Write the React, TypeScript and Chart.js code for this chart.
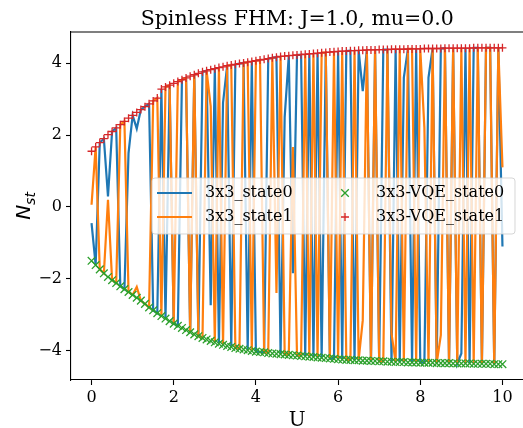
import { useEffect, useRef } from "react";
import { Chart, registerables } from "chart.js";
Chart.register(...registerables);

const TITLE = "Spinless FHM: J=1.0, mu=0.0";
const X_LABEL = "U";
const LEGEND_LABELS = ["3x3_state0", "3x3_state1", "3x3-VQE_state0", "3x3-VQE_state1"];
const X_TICKS = [0, 2, 4, 6, 8, 10];
const Y_TICKS = [-4, -2, 0, 2, 4];

const U_VALUES = [
  0, 0.1, 0.2, 0.3, 0.4, 0.5, 0.6, 0.7, 0.8, 0.9,
  1, 1.1, 1.2, 1.3, 1.4, 1.5, 1.6, 1.7, 1.8, 1.9,
  2, 2.1, 2.2, 2.3, 2.4, 2.5, 2.6, 2.7, 2.8, 2.9,
  3, 3.1, 3.2, 3.3, 3.4, 3.5, 3.6, 3.7, 3.8, 3.9,
  4, 4.1, 4.2, 4.3, 4.4, 4.5, 4.6, 4.7, 4.8, 4.9,
  5, 5.1, 5.2, 5.3, 5.4, 5.5, 5.6, 5.7, 5.8, 5.9,
  6, 6.1, 6.2, 6.3, 6.4, 6.5, 6.6, 6.7, 6.8, 6.9,
  7, 7.1, 7.2, 7.3, 7.4, 7.5, 7.6, 7.7, 7.8, 7.9,
  8, 8.1, 8.2, 8.3, 8.4, 8.5, 8.6, 8.7, 8.8, 8.9,
  9, 9.1, 9.2, 9.3, 9.4, 9.5, 9.6, 9.7, 9.8, 9.9,
  10,
];

const STATE0 = [
  -0.45, -1.62, 1.79, 1.90, 0.29, 2.10, 2.20, -2.21, -2.29, 1.50,
  2.55, 2.18, 2.71, 2.79, 2.87, -2.88, -2.96, 3.28, -3.11, 3.39,
  -3.25, -3.31, 3.54, 3.59, -3.49, 3.68, -3.60, 3.76, 3.79, -2.74,
  3.85, -3.81, 2.90, 3.93, -3.90, 3.97, 3.99, 4.01, -3.99, 4.05,
  -4.03, -4.04, -4.05, 4.13, 4.15, 4.17, -4.10, 2.50, 4.21, -1.85,
  4.23, 4.24, -4.16, 4.26, -4.18, 4.28, -4.20, 4.30, -4.22, -4.23,
  4.33, -4.25, 4.34, 4.35, -4.27, 4.36, 3.22, 4.37, -4.29, 4.37,
  -4.30, 4.38, 4.38, -4.31, 4.39, -4.32, 3.60, 4.40, -4.33, 4.40,
  -4.34, -4.34, 3.60, 4.41, -4.35, 4.41, 4.42, -4.35, 4.42, -4.36,
  -4.08, 4.42, -4.36, 4.43, 4.43, -4.37, 4.43, 4.43, -4.38, 4.43,
  -1.10,
];

const STATE1 = [
  0.06, 1.67, -1.74, -1.85, 0.20, -2.04, -2.12, 2.29, 2.38, -2.37,
  -2.45, -2.23, -2.61, -2.70, -2.80, 2.95, 3.03, -3.04, 3.34, 3.39,
  -3.25, 3.49, 3.54, 3.59, -3.49, 3.68, -3.60, -3.65, 3.79, 2.80,
  -3.77, 3.88, -3.84, 3.93, 3.95, -3.93, -3.95, 4.01, 4.03, -4.01,
  4.07, 4.09, -4.05, -4.07, 4.15, -2.40, 4.19, -4.11, -4.12, 1.67,
  -4.14, -4.15, 4.25, -4.17, 4.27, -4.19, 4.29, 4.30, -4.22, 4.32,
  -4.24, 4.34, -4.26, -4.26, 4.35, -4.27, -3.16, 4.37, -4.29, 4.37,
  -4.30, -4.30, 4.38, -3.53, -4.32, 4.39, -4.32, 4.40, 4.40, -4.33,
  4.40, 2.20, -4.34, 4.41, -4.35, -3.57, 4.42, -4.35, 4.42, -4.36,
  4.42, -4.36, 4.42, -4.37, 4.43, -4.37, 4.43, 4.43, -4.38, 4.43,
  1.10,
];

const VQE_STATE0 = [
  -1.50, -1.62, -1.74, -1.85, -1.95, -2.04, -2.12, -2.21, -2.29, -2.37,
  -2.45, -2.53, -2.61, -2.70, -2.80, -2.88, -2.96, -3.04, -3.11, -3.18,
  -3.25, -3.31, -3.37, -3.43, -3.49, -3.55, -3.60, -3.65, -3.69, -3.73,
  -3.77, -3.81, -3.84, -3.87, -3.90, -3.93, -3.95, -3.97, -3.99, -4.01,
  -4.03, -4.04, -4.05, -4.07, -4.08, -4.09, -4.10, -4.11, -4.12, -4.13,
  -4.14, -4.15, -4.16, -4.17, -4.18, -4.19, -4.20, -4.21, -4.22, -4.23,
  -4.24, -4.25, -4.26, -4.26, -4.27, -4.27, -4.28, -4.28, -4.29, -4.29,
  -4.30, -4.30, -4.31, -4.31, -4.32, -4.32, -4.32, -4.33, -4.33, -4.33,
  -4.34, -4.34, -4.34, -4.34, -4.35, -4.35, -4.35, -4.35, -4.36, -4.36,
  -4.36, -4.36, -4.36, -4.37, -4.37, -4.37, -4.37, -4.37, -4.38, -4.38,
  -4.38,
];

const VQE_STATE1 = [
  1.55, 1.67, 1.79, 1.90, 2.01, 2.10, 2.20, 2.29, 2.38, 2.47,
  2.55, 2.63, 2.71, 2.79, 2.87, 2.95, 3.03, 3.28, 3.34, 3.39,
  3.44, 3.49, 3.54, 3.59, 3.64, 3.68, 3.72, 3.76, 3.79, 3.82,
  3.85, 3.88, 3.90, 3.93, 3.95, 3.97, 3.99, 4.01, 4.03, 4.05,
  4.07, 4.09, 4.11, 4.13, 4.15, 4.17, 4.19, 4.20, 4.21, 4.22,
  4.23, 4.24, 4.25, 4.26, 4.27, 4.28, 4.29, 4.30, 4.31, 4.32,
  4.33, 4.34, 4.34, 4.35, 4.35, 4.36, 4.36, 4.37, 4.37, 4.37,
  4.38, 4.38, 4.38, 4.39, 4.39, 4.39, 4.39, 4.40, 4.40, 4.40,
  4.40, 4.41, 4.41, 4.41, 4.41, 4.41, 4.42, 4.42, 4.42, 4.42,
  4.42, 4.42, 4.42, 4.43, 4.43, 4.43, 4.43, 4.43, 4.43, 4.43,
  4.43,
];

const BLUE = "#1f77b4";
const ORANGE = "#ff7f0e";
const GREEN = "#2ca02c";
const RED = "#d62728";
const SERIF = '"DejaVu Serif", serif';

const fmt = (v: number) => (v < 0 ? "\u2212" + Math.abs(v) : String(v));
const pts = (ys: number[]) => U_VALUES.map((x, i) => ({ x, y: ys[i] }));

const decor = {
  id: "decor",
  afterDraw(chart: any) {
    const { ctx, chartArea } = chart;
    const { left, right, top, bottom } = chartArea;
    ctx.save();
    ctx.strokeStyle = "#000";
    ctx.lineWidth = 1.1;
    ctx.beginPath();
    ctx.moveTo(left, top);
    ctx.lineTo(right + 2, top);
    ctx.stroke();

    ctx.fillStyle = "#000";
    ctx.font = `20.5px ${SERIF}`;
    ctx.textAlign = "center";
    ctx.textBaseline = "alphabetic";
    ctx.fillText(TITLE, (left + 523.5) / 2, 25);
    ctx.font = `20px ${SERIF}`;
    ctx.fillText(X_LABEL, (left + 523.5) / 2, 426);

    ctx.save();
    ctx.translate(30, (top + bottom) / 2);
    ctx.rotate(-Math.PI / 2);
    const fN = `italic 20px "DejaVu Sans", sans-serif`;
    const fS = `italic 14px "DejaVu Sans", sans-serif`;
    ctx.font = fN;
    const wN = ctx.measureText("N").width;
    ctx.font = fS;
    const wS = ctx.measureText("st").width;
    const start = -(wN + wS) / 2;
    ctx.textAlign = "left";
    ctx.font = fN;
    ctx.fillText("N", start, 0);
    ctx.font = fS;
    ctx.fillText("st", start + wN, 5);
    ctx.restore();

    const bx = 152, by = 178, bw = 363, bh = 56, r = 3;
    ctx.beginPath();
    ctx.moveTo(bx + r, by);
    ctx.arcTo(bx + bw, by, bx + bw, by + bh, r);
    ctx.arcTo(bx + bw, by + bh, bx, by + bh, r);
    ctx.arcTo(bx, by + bh, bx, by, r);
    ctx.arcTo(bx, by, bx + bw, by, r);
    ctx.closePath();
    ctx.fillStyle = "rgba(255,255,255,0.8)";
    ctx.fill();
    ctx.strokeStyle = "rgba(204,204,204,0.8)";
    ctx.lineWidth = 1;
    ctx.stroke();

    const rows = [193, 217];
    ctx.lineWidth = 2.2;
    ctx.strokeStyle = BLUE;
    ctx.beginPath();
    ctx.moveTo(157, rows[0]);
    ctx.lineTo(192, rows[0]);
    ctx.stroke();
    ctx.strokeStyle = ORANGE;
    ctx.beginPath();
    ctx.moveTo(157, rows[1]);
    ctx.lineTo(192, rows[1]);
    ctx.stroke();

    const mx = 345;
    ctx.lineWidth = 1.3;
    ctx.strokeStyle = GREEN;
    const d = 3.8;
    ctx.beginPath();
    ctx.moveTo(mx - d, rows[0] - d);
    ctx.lineTo(mx + d, rows[0] + d);
    ctx.moveTo(mx - d, rows[0] + d);
    ctx.lineTo(mx + d, rows[0] - d);
    ctx.stroke();
    ctx.strokeStyle = RED;
    ctx.beginPath();
    ctx.moveTo(mx - 4, rows[1]);
    ctx.lineTo(mx + 4, rows[1]);
    ctx.moveTo(mx, rows[1] - 4);
    ctx.lineTo(mx, rows[1] + 4);
    ctx.stroke();

    ctx.fillStyle = "#000";
    ctx.font = `16px ${SERIF}`;
    ctx.textAlign = "left";
    ctx.textBaseline = "middle";
    ctx.fillText(LEGEND_LABELS[0], 205, rows[0]);
    ctx.fillText(LEGEND_LABELS[1], 205, rows[1]);
    ctx.fillText(LEGEND_LABELS[2], 376, rows[0]);
    ctx.fillText(LEGEND_LABELS[3], 376, rows[1]);
    ctx.restore();
  },
};

export default function App() {
  const ref = useRef<HTMLCanvasElement>(null);
  useEffect(() => {
    document.body.style.margin = "0";
    const axisCommon = {
      grid: {
        display: true,
        drawOnChartArea: false,
        drawTicks: true,
        tickLength: 5,
        tickColor: "#000",
        tickWidth: 1.1,
      },
      border: { display: true, color: "#000", width: 1.1 },
    };
    const chart = new Chart(ref.current!, {
      type: "scatter",
      data: {
        datasets: [
          {
            label: LEGEND_LABELS[0],
            data: pts(STATE0),
            showLine: true,
            borderColor: BLUE,
            backgroundColor: BLUE,
            borderWidth: 2.2,
            pointRadius: 0,
            order: 4,
          },
          {
            label: LEGEND_LABELS[1],
            data: pts(STATE1),
            showLine: true,
            borderColor: ORANGE,
            backgroundColor: ORANGE,
            borderWidth: 2.2,
            pointRadius: 0,
            order: 3,
          },
          {
            label: LEGEND_LABELS[2],
            data: pts(VQE_STATE0),
            showLine: false,
            pointStyle: "crossRot",
            pointRadius: 5.4,
            borderColor: GREEN,
            backgroundColor: GREEN,
            pointBorderWidth: 1.3,
            order: 2,
          },
          {
            label: LEGEND_LABELS[3],
            data: pts(VQE_STATE1),
            showLine: false,
            pointStyle: "cross",
            pointRadius: 4,
            borderColor: RED,
            backgroundColor: RED,
            pointBorderWidth: 1.3,
            order: 1,
          },
        ],
      },
      options: {
        animation: false,
        responsive: false,
        clip: false,
        layout: { autoPadding: false, padding: { top: 32, left: 0, right: 0, bottom: 0 } },
        plugins: {
          legend: { display: false },
          title: { display: false },
          tooltip: { enabled: false },
        },
        scales: {
          x: {
            type: "linear",
            min: -0.5,
            max: 10.5,
            ...axisCommon,
            afterBuildTicks: (s: any) => {
              s.ticks = X_TICKS.map((v) => ({ value: v }));
            },
            afterFit: (s: any) => {
              s.height = 48;
              s.paddingLeft = 0;
              s.paddingRight = 0;
            },
            ticks: {
              color: "#000",
              font: { family: SERIF, size: 16 },
              padding: 3,
              maxRotation: 0,
              autoSkip: false,
              callback: (v: any) => fmt(Number(v)),
            },
          },
          y: {
            type: "linear",
            min: -4.82,
            max: 4.87,
            ...axisCommon,
            afterBuildTicks: (s: any) => {
              s.ticks = Y_TICKS.map((v) => ({ value: v }));
            },
            afterFit: (s: any) => {
              s.width = 71;
              s.paddingTop = 0;
              s.paddingBottom = 0;
            },
            ticks: {
              color: "#000",
              font: { family: SERIF, size: 16 },
              padding: 4,
              autoSkip: false,
              callback: (v: any) => fmt(Number(v)),
            },
          },
        },
      },
      plugins: [decor],
    } as any);
    return () => chart.destroy();
  }, []);
  return (
    <div style={{ position: "absolute", left: 0, top: 0 }}>
      <canvas ref={ref} width={523} height={428} style={{ display: "block" }} />
    </div>
  );
}
